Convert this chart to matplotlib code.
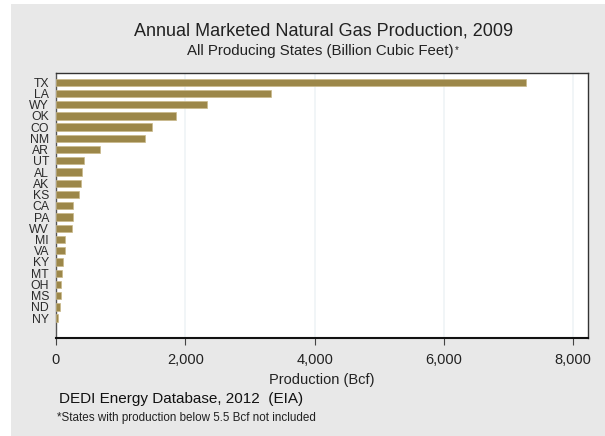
import matplotlib
matplotlib.use("Agg")
import matplotlib.pyplot as plt
from matplotlib.patches import Rectangle
from matplotlib.ticker import FuncFormatter

plt.rcParams['font.family'] = ['Liberation Sans', 'DejaVu Sans']

# Marketed natural gas production by state, 2009 (Bcf)
states = ["TX", "LA", "WY", "OK", "CO", "NM", "AR", "UT", "AL", "AK", "KS",
          "CA", "PA", "WV", "MI", "VA", "KY", "MT", "OH", "MS", "ND", "NY"]
production = [7270, 3320, 2330, 1850, 1490, 1380, 680, 440, 405, 390, 355,
              270, 268, 252, 145, 133, 108, 97, 84, 83, 57, 31]
x_ticks = [0, 2000, 4000, 6000, 8000]

BAR = "#9c8749"
PANEL = "#e8e8e8"

fig = plt.figure(figsize=(6.05, 4.36), dpi=100)
fig.patch.set_facecolor("white")
# grey panel behind the whole chart
fig.patches.append(Rectangle((11 / 605, 0), 1 - 11 / 605, 1 - 4 / 436,
                             transform=fig.transFigure, facecolor=PANEL,
                             edgecolor="none", zorder=-10))

ax = fig.add_axes([56 / 605, 1 - 338 / 436, (588 - 56) / 605, (338 - 73) / 436])
ax.set_zorder(5)
ax.set_facecolor("white")

ypos = list(range(len(states)))
ax.barh(ypos, production, height=0.65, color=BAR, edgecolor="#c9b98a",
        linewidth=0.5, zorder=3)

ax.set_xlim(0, 8230)
ax.set_ylim(len(states) - 1 + 1.77, -0.82)
ax.set_xticks(x_ticks)
ax.xaxis.set_major_formatter(FuncFormatter(lambda v, p: f"{int(v):,}"))
ax.set_yticks(ypos)
ax.set_yticklabels(states)
ax.tick_params(axis="y", length=0, pad=5, labelsize=8.8, colors="#2a2a2a")
ax.tick_params(axis="x", length=5, width=0.8, direction="out", pad=6,
               labelsize=10.5, colors="#222222", color="#444444")
ax.xaxis.grid(True, color="#eef3f5", linewidth=1.1, zorder=0)
ax.set_axisbelow(True)

for side in ("top", "right"):
    ax.spines[side].set_linewidth(1.0)
    ax.spines[side].set_color("#333333")
ax.spines["left"].set_linewidth(1.0)
ax.spines["left"].set_color("#555555")
ax.spines["bottom"].set_linewidth(1.5)
ax.spines["bottom"].set_color("#111111")

ax.set_xlabel("Production (Bcf)", fontsize=10.5, color="#222222", labelpad=4)

fig.text(0.534, 1 - 31 / 436, "Annual Marketed Natural Gas Production, 2009",
         ha="center", va="center", fontsize=13, color="#222222")
sub = fig.text(0.530, 1 - 51 / 436, "All Producing States (Billion Cubic Feet)",
               ha="center", va="center", fontsize=10.8, color="#222222")
fig.canvas.draw()
bb = sub.get_window_extent()
fig.text(bb.x1 / fig.bbox.width + 0.001, bb.y1 / fig.bbox.height - 0.002, "*",
         ha="left", va="top", fontsize=7, color="#222222")

fig.text(59 / 605, 1 - 399 / 436, "DEDI Energy Database, 2012  (EIA)",
         ha="left", va="center", fontsize=11, color="#111111")
fig.text(57 / 605, 1 - 418 / 436, "*States with production below 5.5 Bcf not included",
         ha="left", va="center", fontsize=8.35, color="#222222")

fig.savefig("out.png", dpi=100, facecolor=fig.get_facecolor())
